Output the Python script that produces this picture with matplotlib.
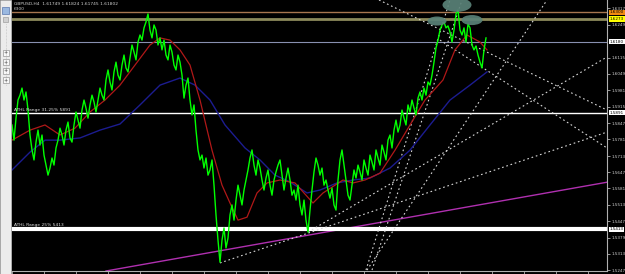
import matplotlib
matplotlib.use('Agg')
import matplotlib.pyplot as plt
from matplotlib.patches import Ellipse, Rectangle
import numpy as np

# ---------------- data ----------------
title_text = "GBPUSD,H4  1.61749 1.61824 1.61745 1.61802"

close = [
    # bars 0-24
    1.5840, 1.5778, 1.5868, 1.5942, 1.5962, 1.5991, 1.5942, 1.5975, 1.5901, 1.5799,
    1.5738, 1.5697, 1.5770, 1.5819, 1.5758, 1.5799, 1.5717, 1.5676, 1.5635, 1.5664,
    1.5705, 1.5676, 1.5746, 1.5778, 1.5827,
    # 25-48
    1.5799, 1.5758, 1.5819, 1.5852, 1.5787, 1.5770, 1.5840, 1.5893, 1.5860, 1.5827,
    1.5901, 1.5942, 1.5909, 1.5868, 1.5922, 1.5962, 1.5934, 1.5893, 1.5942, 1.5991,
    1.5962, 1.5942, 1.6024, 1.6065,
    # 49-69
    1.6016, 1.5983, 1.6057, 1.6097, 1.6044, 1.6024, 1.6085, 1.6126, 1.6073, 1.6057,
    1.6114, 1.6167, 1.6138, 1.6106, 1.6179, 1.6208, 1.6187, 1.6237, 1.6261, 1.6294,
    1.6228,
    # 70-85
    1.6196, 1.6249, 1.6228, 1.6167, 1.6196, 1.6147, 1.6187, 1.6126, 1.6106, 1.6167,
    1.6138, 1.6085, 1.6065, 1.6126, 1.6097, 1.6044,
    # 86-104
    1.5950, 1.6003, 1.6032, 1.5942, 1.5881, 1.5922, 1.5819, 1.5738, 1.5697, 1.5717,
    1.5664, 1.5705, 1.5635, 1.5656, 1.5697, 1.5594, 1.5472, 1.5369, 1.5279,
    # 105-119
    1.5369, 1.5419, 1.5337, 1.5378, 1.5472, 1.5513, 1.5451, 1.5533, 1.5594, 1.5553,
    1.5513, 1.5574, 1.5615, 1.5656, 1.5705,
    # 120-149
    1.5738, 1.5676, 1.5635, 1.5697, 1.5664, 1.5615, 1.5574, 1.5623, 1.5656, 1.5594,
    1.5553, 1.5615, 1.5648, 1.5676, 1.5697, 1.5635, 1.5574, 1.5623, 1.5664, 1.5615,
    1.5553, 1.5574, 1.5533, 1.5594, 1.5513, 1.5472, 1.5533, 1.5451, 1.5402, 1.5492,
    # 150-174
    1.5574, 1.5648, 1.5705, 1.5676, 1.5635, 1.5664, 1.5594, 1.5615, 1.5574, 1.5541,
    1.5582, 1.5513, 1.5492, 1.5615, 1.5697, 1.5738, 1.5676, 1.5615, 1.5553, 1.5533,
    1.5594, 1.5656, 1.5623, 1.5676, 1.5648,
    # 175-200
    1.5615, 1.5697, 1.5664, 1.5635, 1.5717, 1.5688, 1.5656, 1.5738, 1.5705, 1.5676,
    1.5758, 1.5729, 1.5697, 1.5778, 1.5799, 1.5746, 1.5819, 1.5860, 1.5811, 1.5840,
    1.5901, 1.5868, 1.5840, 1.5922, 1.5893, 1.5942,
    # 201-237
    1.5909, 1.5881, 1.5950, 1.5975, 1.5942, 1.5991, 1.5962, 1.6016, 1.6003, 1.6044,
    1.6097, 1.6155, 1.6187, 1.6228, 1.6249, 1.6261, 1.6237, 1.6245, 1.6220, 1.6179,
    1.6228, 1.6294, 1.6310, 1.6228, 1.6208, 1.6237, 1.6179, 1.6253, 1.6237, 1.6167,
    1.6147, 1.6163, 1.6126, 1.6097, 1.6073, 1.6147, 1.6196,
]

ma_fast_bar = [0, 9, 16.5, 24, 31.5, 39, 46.5, 54, 61.5, 69, 74, 79, 84, 89, 94, 100, 105,
               109, 113, 117.5, 122.5, 127.5, 134, 141.5, 150.5, 155.5, 165.5, 170.5, 176.5,
               184, 191.5, 199, 206.5, 215.5, 221.5, 227.5, 234, 237.5]
ma_fast = [1.5778, 1.5819, 1.5840, 1.5799, 1.5827, 1.5893, 1.5942, 1.6003, 1.6085, 1.6167,
           1.6196, 1.6187, 1.6147, 1.6085, 1.5942, 1.5737, 1.5594, 1.5521, 1.5451, 1.5463,
           1.5562, 1.5603, 1.5615, 1.5603, 1.5521, 1.5562, 1.5615, 1.5603, 1.5615, 1.5643,
           1.5737, 1.5840, 1.5942, 1.6024, 1.6147, 1.6208, 1.6179, 1.6147]

ma_slow_bar = [0, 9, 16.5, 24, 34, 44, 54, 64, 74, 84, 91.5, 99, 106.5, 116.5, 124, 131.5,
               139, 147.5, 154, 162.5, 170.5, 179, 189, 199, 209, 219, 229, 237.5]
ma_slow = [1.5656, 1.5729, 1.5778, 1.5778, 1.5787, 1.5819, 1.5844, 1.5922, 1.6003, 1.6032,
           1.6003, 1.5942, 1.5840, 1.5746, 1.5697, 1.5635, 1.5607, 1.5562, 1.5574, 1.5603,
           1.5615, 1.5623, 1.5664, 1.5737, 1.5840, 1.5942, 1.6003, 1.6057]

level_prices = [1.6300, 1.6273, 1.6180, 1.5891, 1.5413]
level_labels = ['1.6300', '1.6273', '1.6180', '1.5891', '1.5413']

ytick_values = [1.5247, 1.5313, 1.5379, 1.5447, 1.5513, 1.5581, 1.5647, 1.5713, 1.5781,
                1.5847, 1.5915, 1.5981, 1.6049, 1.6115, 1.6249, 1.6317]

# trend lines: (bar0, price0, bar1, price1)
dotted_lines = [
    (104.0, 1.5276, 297.5, 1.5811),
    (148.0, 1.5402, 297.5, 1.6118),
    (177.0, 1.5247, 219.0, 1.6351),
    (180.0, 1.5247, 225.0, 1.6351),
    (177.5, 1.5247, 267.5, 1.6351),
    (183.5, 1.6351, 297.5, 1.5901),
    (214.0, 1.6187, 297.5, 1.5746),
]
purple_line = (47.0, 1.5243, 297.5, 1.5606)

# (centre bar, centre price, width in bars, height in price)
ellipses = [(222.5, 1.6331, 14.5, 0.0057), (212.5, 1.6265, 9.5, 0.0037), (230.0, 1.6269, 10.5, 0.0041)]

# ---------------- styles ----------------
level_colors = ['#a87650', '#8c8a5c', '#8890b0', '#ffffff', '#ffffff']
level_widths = [1.0, 2.0, 0.8, 1.0, 3.0]
level_boxes = ['#f08a10', '#ffff00', '#ffffff', '#ffffff', '#ffffff']

# ---------------- figure ----------------
W, H = 625, 274
fig = plt.figure(figsize=(W / 100, H / 100), dpi=100, facecolor='black')
ax = fig.add_axes([12 / W, 3 / H, (607 - 12) / W, 271 / H])
ax.set_facecolor('black')
ax.set_xlim(0, 297.5)
ax.set_ylim(1.5243, 1.6351)

ax.plot([purple_line[0], purple_line[2]], [purple_line[1], purple_line[3]], color='#b030b0', lw=1.0, zorder=2)

for p, c, w in zip(level_prices, level_colors, level_widths):
    ax.axhline(p, color=c, lw=w, zorder=2)

for (b0, p0, b1, p1) in dotted_lines:
    ax.plot([b0, b1], [p0, p1], color='#d8d8d8', lw=0.8, ls=(0, (1.5, 2.5)), zorder=3)

ax.plot(ma_slow_bar, ma_slow, color='#1c1c90', lw=1.0, zorder=4)
ax.plot(ma_fast_bar, ma_fast, color='#b01818', lw=0.9, zorder=4)

ax.plot(np.arange(len(close)), close, color='#00ff00', lw=1.0, zorder=5)

for (cx, cy, ew, eh) in ellipses:
    ax.add_patch(Ellipse((cx, cy), ew, eh, facecolor='#5a8278', edgecolor='none', alpha=0.92, zorder=6))

ax.text(1, 1.6300 + 0.0006, '6300', color='#c8c8c8', fontsize=3.2, va='bottom', ha='left', zorder=7)
ax.text(1, 1.5891 + 0.0004, 'ATHL Range 31.25% 5891', color='#e0e0e0', fontsize=3.2, va='bottom', ha='left', zorder=7)
ax.text(1, 1.5413 + 0.0008, 'ATHL Range 25% 5413', color='#e0e0e0', fontsize=3.2, va='bottom', ha='left', zorder=7)
fig.text(14 / W, 1 - 4 / H, title_text, color='#d0d0d0', fontsize=3.2, va='center', ha='left')

for s in ['top', 'left']:
    ax.spines[s].set_visible(False)
for s in ['right', 'bottom']:
    ax.spines[s].set_color('#b0b0b0')
    ax.spines[s].set_linewidth(0.8)
ax.yaxis.tick_right()
ax.set_yticks(ytick_values)
ax.set_yticklabels([f'{v:.4f}' for v in ytick_values])
ax.tick_params(axis='y', colors='#b0b0b0', labelcolor='#d0d0d0', labelsize=3.0, length=2, width=0.6, pad=1)
ax.set_xticks(np.arange(0, 298, 16))
ax.set_xticklabels([])
ax.tick_params(axis='x', colors='#b0b0b0', length=2, width=0.6)

for p, bc, lab in zip(level_prices, level_boxes, level_labels):
    ax.annotate(lab, xy=(1.0, p), xycoords=('axes fraction', 'data'), xytext=(2, 0),
                textcoords='offset points', fontsize=3.0, color='black', va='center', ha='left',
                bbox=dict(boxstyle='square,pad=0.15', facecolor=bc, edgecolor='none'), zorder=8,
                annotation_clip=False)

# left toolbar
fig.patches.append(Rectangle((0, 0), 11 / W, 1, transform=fig.transFigure, facecolor='#ececec', edgecolor='#c0c0c0', lw=0.5))
fig.patches.append(Rectangle((2 / W, 1 - 14 / H), 7 / W, 7 / H, transform=fig.transFigure, facecolor='#9ab8e0', edgecolor='#4060a0', lw=0.4))
fig.patches.append(Rectangle((3 / W, 1 - 22 / H), 5 / W, 5 / H, transform=fig.transFigure, facecolor='#d0d0d0', edgecolor='#909090', lw=0.4))
fig.lines.append(plt.Line2D([5.5 / W, 5.5 / W], [1 - 24 / H, 1 - 85 / H], transform=fig.transFigure, color='#a0a0a0', lw=0.4, ls=':'))
for yy in [53, 62, 71, 80]:
    fig.patches.append(Rectangle((2.5 / W, 1 - (yy + 3) / H), 6 / W, 6 / H, transform=fig.transFigure, facecolor='#f8f8f8', edgecolor='#808080', lw=0.4))
    fig.text(5.5 / W, 1 - yy / H, '+', fontsize=3.5, color='#404040', ha='center', va='center')

fig.savefig('out.png', dpi=100, facecolor='black')
